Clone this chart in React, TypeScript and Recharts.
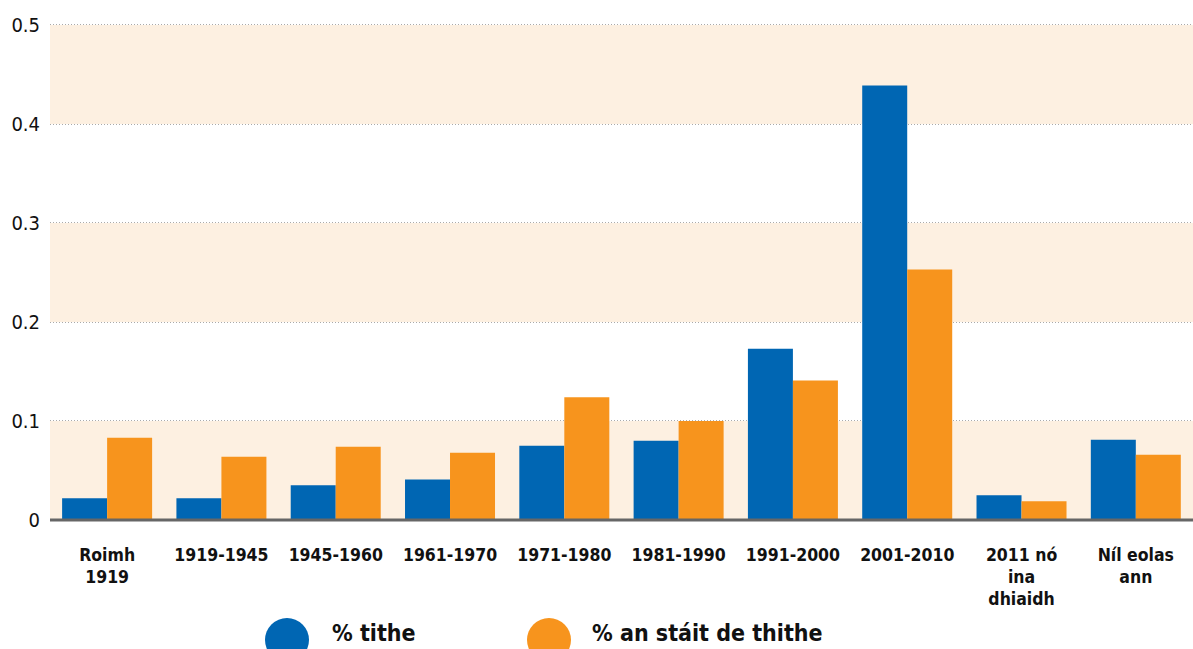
import React from 'react';
import { BarChart, Bar, XAxis, YAxis, CartesianGrid, ReferenceArea, Legend } from 'recharts';

const categories = ['Roimh\n1919', '1919-1945', '1945-1960', '1961-1970', '1971-1980', '1981-1990', '1991-2000', '2001-2010', '2011 nó\nina\ndhiaidh', 'Níl eolas\nann'];
const tithe = [0.022, 0.022, 0.035, 0.041, 0.075, 0.080, 0.173, 0.439, 0.025, 0.081];
const staitTithe = [0.083, 0.064, 0.074, 0.068, 0.124, 0.100, 0.141, 0.253, 0.019, 0.066];
const yTicks = [0, 0.1, 0.2, 0.3, 0.4, 0.5];
const bands: [number, number][] = [[0, 0.1], [0.2, 0.3], [0.4, 0.5]];
const seriesNames = ['% tithe', '% an stáit de thithe'];

const BLUE = '#0066b3';
const ORANGE = '#f7941d';
const PEACH = '#fdf0e1';
const FONT = '"DejaVu Sans Condensed", "DejaVu Sans", sans-serif';

const data = categories.map((c, i) => ({ cat: c, tithe: tithe[i], stait: staitTithe[i] }));

const CatTick = (props: any) => {
  const { x, y, payload } = props;
  const lines = String(payload.value).split('\n');
  return (
    <text x={x} y={y} textAnchor="middle" fontWeight="bold" fontSize={17.5} fill="#111" fontFamily={FONT}>
      {lines.map((l, i) => (
        <tspan key={i} x={x} dy={i === 0 ? 33 : 22}>{l}</tspan>
      ))}
    </text>
  );
};

const LegendContent = () => {
  const items = [
    { name: seriesNames[0], color: BLUE, left: 265, textLeft: 332 },
    { name: seriesNames[1], color: ORANGE, left: 527, textLeft: 592 },
  ];
  return (
    <div style={{ position: 'relative', width: 1193, height: 37 }}>
      {items.map((it) => (
        <React.Fragment key={it.name}>
          <div style={{ position: 'absolute', left: it.left, top: 6, width: 44, height: 44, borderRadius: '50%', background: it.color }} />
          <div style={{ position: 'absolute', left: it.textLeft, top: 8, fontFamily: FONT, fontWeight: 'bold', fontSize: 23, color: '#111', whiteSpace: 'nowrap', lineHeight: '27px' }}>{it.name}</div>
        </React.Fragment>
      ))}
    </div>
  );
};

export default function App() {
  return (
    <div style={{ position: 'absolute', left: 0, top: 0, width: 1193, height: 649, overflow: 'hidden', background: '#fff' }}>
      <BarChart width={1193} height={649} data={data} margin={{ top: 25, right: 0, left: 0, bottom: 0 }} barCategoryGap="10.6%" barGap={0}>
        {bands.map(([a, b]) => (
          <ReferenceArea key={a} y1={a} y2={b} fill={PEACH} fillOpacity={1} stroke="none" />
        ))}
        <CartesianGrid vertical={false} stroke="#555" strokeDasharray="1 2" />
        <XAxis dataKey="cat" interval={0} tick={<CatTick />} tickLine={false} axisLine={{ stroke: '#666', strokeWidth: 3 }} height={92} />
        <YAxis domain={[0, 0.5]} ticks={yTicks} width={50} tickLine={false} axisLine={false} tickSize={0} tickMargin={10}
          tick={{ fontSize: 20, fill: '#111', fontFamily: FONT }} tickFormatter={(v: number) => (v === 0 ? '0' : String(v))} />
        <Legend verticalAlign="bottom" content={<LegendContent />} wrapperStyle={{ left: 0, bottom: 0, width: 1193, height: 37 }} />
        <Bar dataKey="tithe" name={seriesNames[0]} fill={BLUE} isAnimationActive={false} />
        <Bar dataKey="stait" name={seriesNames[1]} fill={ORANGE} isAnimationActive={false} />
      </BarChart>
    </div>
  );
}
